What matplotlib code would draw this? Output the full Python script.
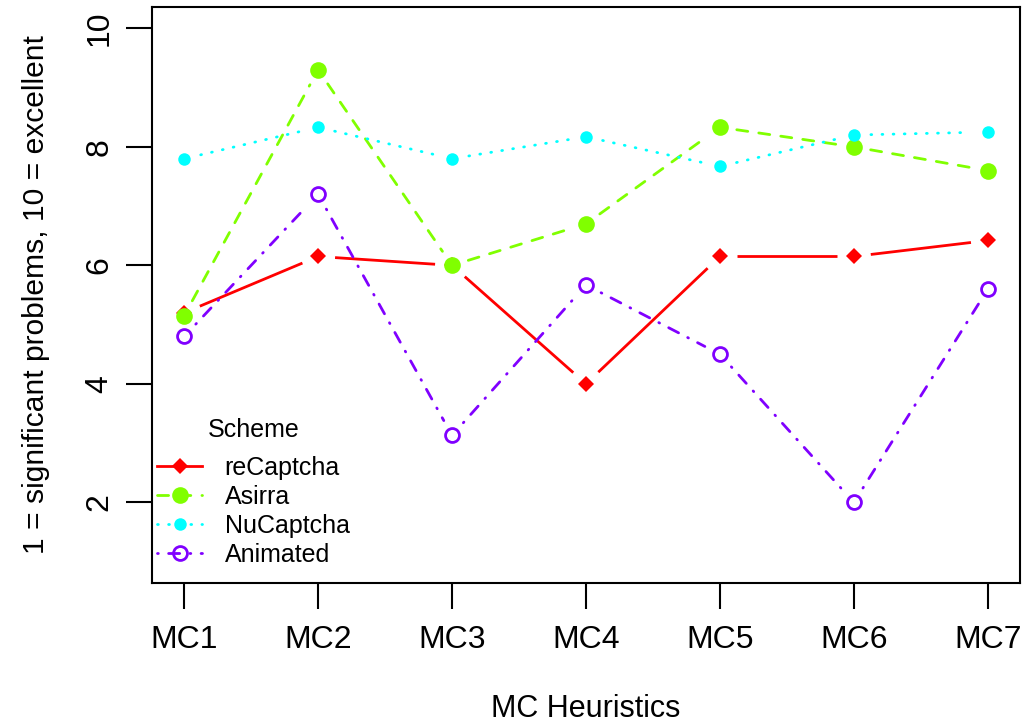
import matplotlib

matplotlib.use("Agg")
import matplotlib.pyplot as plt
import numpy as np
from matplotlib.lines import Line2D

plt.rcParams.update(
    {
        "font.family": ["Liberation Sans", "DejaVu Sans"],
        "figure.dpi": 100,
    }
)

# ---------------------------------------------------------------------------
# data
# ---------------------------------------------------------------------------
heuristics = ["MC1", "MC2", "MC3", "MC4", "MC5", "MC6", "MC7"]
recaptcha = [5.2, 6.15, 6.0, 4.0, 6.15, 6.15, 6.42]
asirra = [5.15, 9.3, 6.0, 6.7, 8.33, 8.0, 7.6]
nucaptcha = [7.8, 8.33, 7.8, 8.17, 7.67, 8.2, 8.25]
animated = [4.8, 7.2, 3.13, 5.67, 4.5, 2.0, 5.6]

series = [
    # name, values, colour, marker, size, filled, dashes
    ("reCaptcha", recaptcha, "#FF0000", "D", 8, True, None),
    ("Asirra", asirra, "#80FF00", "o", 12, True, (4, 4)),
    ("NuCaptcha", nucaptcha, "#00FFFF", "o", 9, True, (0.3, 3.7)),
    ("Animated", animated, "#8000FF", "o", 10, False, (0.3, 3.7, 4, 3.7)),
]

fig = plt.figure(figsize=(10.23, 7.25))
ax = fig.add_axes([152 / 1023, 142 / 725, 868 / 1023, 576 / 725])
ax.set_xlim(0.76, 7.24)
ax.set_ylim(0.64, 10.36)

x = np.arange(1, len(heuristics) + 1)
gap = 17.0  # px, like R type = "b"
lw = 2.0


def draw_gapped(xs, ys, color, dashes):
    # lines stop short of each point, the way R draws type = "b"
    pts = ax.transData.transform(np.column_stack([xs, ys]))
    inv = ax.transData.inverted()
    for p0, p1 in zip(pts[:-1], pts[1:]):
        d = p1 - p0
        L = np.hypot(*d)
        if L <= 2 * gap:
            continue
        u = d / L
        seg = inv.transform(np.array([p0 + u * gap, p1 - u * gap]))
        ln, = ax.plot(seg[:, 0], seg[:, 1], color=color, lw=lw,
                      solid_capstyle="butt", dash_capstyle="round")
        if dashes:
            ln.set_dashes(dashes)


handles = []
for name, vals, col, mk, ms, filled, dashes in series:
    draw_gapped(x, vals, col, dashes)
    ax.plot(x, vals, ls="none", marker=mk, ms=ms, color=col,
            mfc=col if filled else "none", mec=col, mew=2 if not filled else 0)
    h = Line2D([], [], color=col, lw=lw, marker=mk, ms=ms,
               mfc=col if filled else "none", mec=col,
               mew=2 if not filled else 0, dash_capstyle="round")
    if dashes:
        h.set_dashes(dashes)
    handles.append(h)

ax.set_xticks(x)
ax.set_xticklabels(heuristics)
ax.set_yticks([2, 4, 6, 8, 10])
ax.tick_params(axis="both", length=19, width=1.5, labelsize=23)
ax.tick_params(axis="x", pad=11)
ax.tick_params(axis="y", pad=8)
for lab in ax.get_yticklabels():
    lab.set_rotation(90)
    lab.set_va("center")
for s in ax.spines.values():
    s.set_linewidth(1.5)

ax.set_xlabel("MC Heuristics", fontsize=22, va="top")
ax.xaxis.set_label_coords(0.5, -0.193)
ax.set_ylabel("1 = significant problems, 10 = excellent", fontsize=21.6)
ax.yaxis.set_label_coords(-0.118, 0.5)

leg = ax.legend(handles, [s[0] for s in series], title="Scheme",
                loc="lower left", bbox_to_anchor=(-0.02, -0.011),
                frameon=False, fontsize=18, title_fontsize=18,
                handlelength=1.8, handletextpad=0.9, labelspacing=0.2)
leg._legend_box.sep = 10

fig.savefig("out.png")
